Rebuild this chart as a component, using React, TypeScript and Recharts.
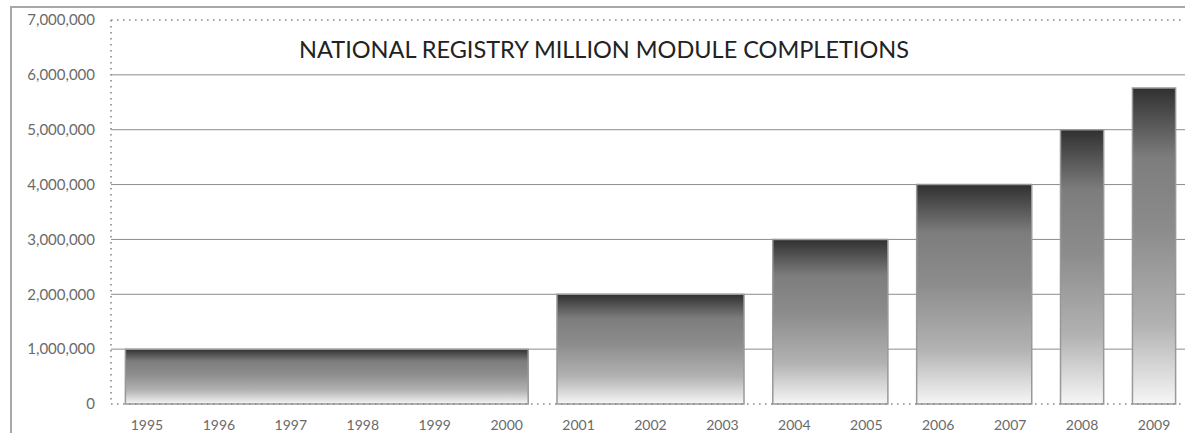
import React from 'react';
import {
  ComposedChart,
  XAxis,
  YAxis,
  CartesianGrid,
  Line,
  ReferenceArea,
  ReferenceLine,
} from 'recharts';

const YEARS = [
  1995, 1996, 1997, 1998, 1999, 2000, 2001, 2002, 2003, 2004, 2005, 2006,
  2007, 2008, 2009,
];
const PERIOD_START = [1995, 2001, 2004, 2006, 2008, 2009];
const PERIOD_END = [2000, 2003, 2005, 2007, 2008, 2009];
const COMPLETIONS = [1000000, 2000000, 3000000, 4000000, 5000000, 5760000];
const Y_TICKS = [0, 1000000, 2000000, 3000000, 4000000, 5000000, 6000000, 7000000];
const GRID_VALUES = [1000000, 2000000, 3000000, 4000000, 5000000, 6000000];

const TITLE = 'NATIONAL REGISTRY MILLION MODULE COMPLETIONS';
const FONT = 'Lato, "Open Sans", sans-serif';
// half a bar's width beyond the centre of its first/last year, in year units
const BAR_HALF = 0.3;

// one row per year, carrying the value of the period it belongs to
const rows = YEARS.map((year, idx) => {
  const p = PERIOD_START.findIndex((s, i) => year >= s && year <= PERIOD_END[i]);
  return { idx, year, value: COMPLETIONS[p] };
});
const dotted = { stroke: '#8a8a8a', strokeWidth: 1.6, strokeDasharray: '1.6 4.4' };

export default function App() {
  return (
    <div
      style={{
        position: 'fixed',
        left: 0,
        top: 0,
        width: 1185,
        height: 433,
        overflow: 'hidden',
        background: '#fff',
      }}
    >
      <svg width={0} height={0} style={{ position: 'absolute' }}>
        <defs>
          <linearGradient id="barFill" x1="0" y1="0" x2="0" y2="1">
            <stop offset="0%" stopColor="#303030" />
            <stop offset="22%" stopColor="#7d7d7d" />
            <stop offset="45%" stopColor="#8c8c8c" />
            <stop offset="75%" stopColor="#b2b2b2" />
            <stop offset="100%" stopColor="#f6f6f6" />
          </linearGradient>
        </defs>
      </svg>

      {/* frame around the page */}
      <div
        style={{
          position: 'absolute',
          left: 10,
          top: 6,
          width: 2000,
          height: 1000,
          borderLeft: '2px solid #a8a8a8',
          borderTop: '2px solid #a8a8a8',
        }}
      />

      <div style={{ position: 'absolute', left: 0, top: 0 }}>
        <ComposedChart
          width={1190}
          height={433}
          data={rows}
          margin={{ top: 20, right: 0, bottom: 0, left: 0 }}
        >
          <CartesianGrid
            vertical={false}
            horizontalValues={GRID_VALUES}
            stroke="#8c8c8c"
            strokeWidth={1}
          />
          <ReferenceLine y={7000000} {...dotted} ifOverflow="visible" />
          {COMPLETIONS.map((value, i) => (
            <ReferenceArea
              key={PERIOD_START[i]}
              x1={YEARS.indexOf(PERIOD_START[i]) - BAR_HALF}
              x2={YEARS.indexOf(PERIOD_END[i]) + BAR_HALF}
              y1={0}
              y2={value}
              fill="url(#barFill)"
              fillOpacity={1}
              stroke="#999"
              strokeWidth={1.5}
              ifOverflow="visible"
            />
          ))}
          {/* invisible series so the value axis has data */}
          <Line
            dataKey="value"
            stroke="none"
            dot={false}
            activeDot={false}
            legendType="none"
            isAnimationActive={false}
          />
          <XAxis
            type="number"
            dataKey="idx"
            domain={[-0.5, 14.5]}
            ticks={YEARS.map((_, i) => i)}
            interval={0}
            tickFormatter={(i: number) => String(YEARS[i])}
            height={29}
            tickLine={false}
            tickSize={0}
            tickMargin={16}
            axisLine={dotted}
            tick={{ fill: '#6a6a6a', fontSize: 14, fontFamily: FONT }}
          />
          <YAxis
            type="number"
            domain={[0, 7000000]}
            ticks={Y_TICKS}
            interval={0}
            tickFormatter={(v: number) => v.toLocaleString('en-US')}
            width={111}
            tickLine={false}
            tickSize={0}
            tickMargin={16}
            axisLine={dotted}
            tick={{ fill: '#6a6a6a', fontSize: 15, fontFamily: FONT }}
          />
        </ComposedChart>
      </div>

      <div
        style={{
          position: 'absolute',
          left: 604,
          top: 38,
          transform: 'translateX(-50%)',
          whiteSpace: 'nowrap',
          fontFamily: FONT,
          fontSize: 23.5,
          lineHeight: '23.5px',
          color: '#222',
        }}
      >
        {TITLE}
      </div>
    </div>
  );
}
